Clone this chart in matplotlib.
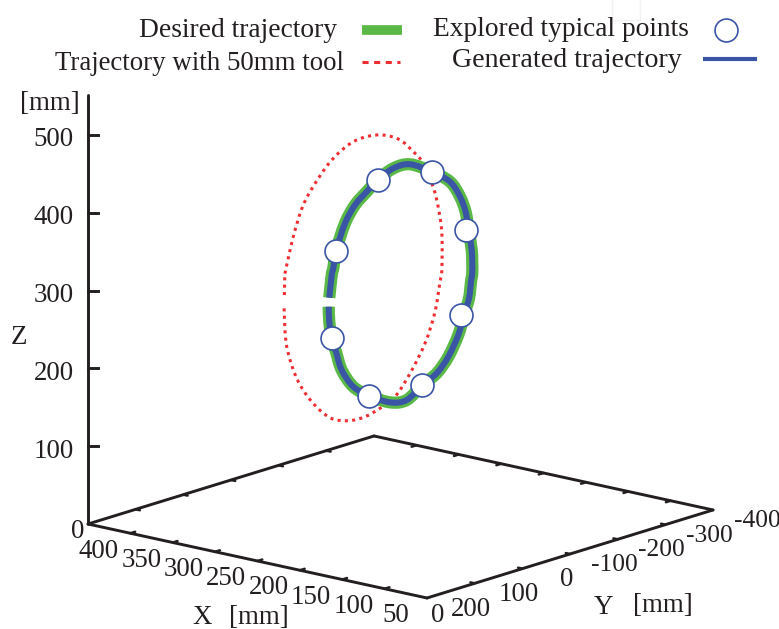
import numpy as np
import matplotlib
matplotlib.use('Agg')
import matplotlib.pyplot as plt
from matplotlib.path import Path
from matplotlib.patches import PathPatch

plt.rcParams['font.family'] = ['Liberation Serif', 'DejaVu Serif']

# trajectory values in mm, the curve has a small break between last and first value
traj_x = 200
traj_y = [49.4, 44.3, 41.0, 35.3, 16.4, -4.5, -29.1, -52.2, -84.9, -119.9, -165.4,
          -203.8, -224.8, -236.8, -242.6, -249.4, -250.6, -247.9, -243.7, -233.2,
          -221.2, -200.3, -175.9, -145.7, -113.0, -78.0, -34.5, -1.0, 23.4, 35.3,
          44.3, 49.4, 50.6]
traj_z = [310.0, 338.3, 346.3, 367.4, 399.5, 419.0, 431.5, 442.2, 451.0, 449.6, 431.5,
          411.4, 388.2, 365.8, 342.0, 315.0, 286.9, 274.6, 254.0, 234.6,
          211.1, 187.1, 170.4, 161.1, 147.9, 151.5, 168.3, 186.1, 212.2, 237.9,
          256.9, 279.2, 298.7]

tool_x = 250
tool_y = [54.8, 54.0, 53.4, 36.0, 15.0, -16.5, -48.0, -89.9, -139.0, -184.3, -215.8,
          -236.8, -254.4, -264.9, -275.4, -275.4, -271.8, -261.3, -240.3, -208.9,
          -177.4, -145.9, -114.5, -79.4, -41.0, -2.6, 28.8, 49.8, 54.8, 54.8]
tool_z = [302.6, 324.4, 330.3, 374.0, 410.9, 439.1, 458.9, 472.4, 471.8, 458.0, 435.8,
          416.9, 388.0, 364.5, 321.8, 270.4, 258.2, 221.5, 184.9, 152.2,
          128.1, 119.2, 114.3, 115.7, 126.8, 154.7, 190.7, 235.3, 276.9, 287.6]

point_y = [44.3, 35.3, -52.2, -165.4, -236.8, -226.9, -145.7, -34.5]
point_z = [256.9, 367.4, 442.2, 431.5, 343.1, 235.7, 161.1, 168.3]

x_ticks = [400, 350, 300, 250, 200, 150, 100, 50, 0]
y_ticks = [200, 100, 0, -100, -200, -300, -400]
z_ticks = [0, 100, 200, 300, 400, 500]

BLACK = '#231f20'
GREEN = '#5ab946'
BLUE = '#3a55a5'
RED = '#ee2e33'
FS = 19.4


def project(x, y, z):
    # axonometric view, result in figure pixels
    x, y, z = np.asarray(x, float), np.asarray(y, float), np.asarray(z, float)
    u = 427 - 0.8475 * x + 0.4767 * (200 - y)
    v = 598 - 0.185 * x - 0.1467 * (200 - y) - 0.778 * z
    return u, v


def curve(u, v, **kw):
    # bezier path through the read values so the ring is not drawn with corners
    pts = np.column_stack([u, v])
    prev = np.vstack([pts[0], pts[:-2]])
    nxt = np.vstack([pts[2:], pts[-1]])
    verts = [pts[0]]
    for i in range(len(pts) - 1):
        verts += [pts[i] + (pts[i + 1] - prev[i]) / 6,
                  pts[i + 1] - (nxt[i] - pts[i]) / 6,
                  pts[i + 1]]
    codes = [Path.MOVETO] + [Path.CURVE4] * (len(verts) - 1)
    ax.add_patch(PathPatch(Path(verts, codes), fill=False, **kw))


fig = plt.figure(figsize=(7.79, 6.29), dpi=100)
ax = fig.add_axes([0, 0, 1, 1])
ax.set_xlim(0, 779)
ax.set_ylim(629, 0)
ax.axis('off')


def edge(p0, p1, lw=2.1):
    u, v = project(*zip(p0, p1))
    ax.plot(u, v, color=BLACK, lw=lw, solid_capstyle='round', zorder=2)


# floor and z axis
edge((400, 200, 0), (0, 200, 0))
edge((0, 200, 0), (0, -400, 0))
edge((0, -400, 0), (400, -400, 0))
edge((400, -400, 0), (400, 200, 0))
edge((400, 200, 0), (400, 200, 551))

for t in x_ticks[1:-1]:
    edge((t, 200, 0), (t, 190, 0), 1.8)
    edge((t, -400, 0), (t, -390, 0), 1.8)
for t in y_ticks[1:-1]:
    edge((400, t, 0), (395, t, 0), 1.8)
    edge((0, t, 0), (5, t, 0), 1.8)
for t in z_ticks[1:]:
    u, v = project(400, 200, t)
    ax.plot([u, u + 10], [v, v], color=BLACK, lw=2.1, zorder=2)

# tick labels
for t in x_ticks:
    u, v = project(t, 200, 0)
    dy = 27 if t else 18
    ax.text(u + 11, v + dy, str(t), ha='center', va='center', fontsize=FS, color=BLACK)
for t in y_ticks:
    u, v = project(0, t, 0)
    size = 18.4 if t < 0 else FS
    ax.text(u + 44, v + 11, str(t), ha='center', va='center', fontsize=size, color=BLACK)
for t in z_ticks:
    u, v = project(400, 200, t)
    if t == 0:
        ax.text(84, v + 7, '0', ha='right', va='center', fontsize=FS, color=BLACK)
    else:
        ax.text(74, v + 5, str(t), ha='right', va='center', fontsize=FS, color=BLACK)

ax.text(50, 104, '[mm]', ha='center', va='center', fontsize=FS, color=BLACK)
ax.text(19, 337, 'Z', ha='center', va='center', fontsize=FS, color=BLACK)
ax.text(202, 618, 'X', ha='center', va='center', fontsize=FS, color=BLACK)
ax.text(259, 618, '[mm]', ha='center', va='center', fontsize=FS, color=BLACK)
ax.text(603, 607, 'Y', ha='center', va='center', fontsize=FS, color=BLACK)
ax.text(663, 606, '[mm]', ha='center', va='center', fontsize=FS, color=BLACK)

# curves
u, v = project(tool_x, tool_y, tool_z)
curve(u, v, color=RED, lw=2.2, ls=(0, (1, 1.4)), zorder=3)
u, v = project(traj_x, traj_y, traj_z)
curve(u, v, color=GREEN, lw=8.8, capstyle='butt', zorder=4)
curve(u, v, color=BLUE, lw=4.4, capstyle='butt', zorder=5)
u, v = project(traj_x, point_y, point_z)
ax.plot(u, v, 'o', ms=16.5, mfc='white', mec=BLUE, mew=1.2, zorder=6)

# legend
ax.text(337, 37, 'Desired trajectory', ha='right', va='baseline', fontsize=19.8, color=BLACK)
ax.text(344, 70, 'Trajectory with 50mm tool', ha='right', va='baseline', fontsize=FS, color=BLACK)
ax.text(433, 36, 'Explored typical points', ha='left', va='baseline', fontsize=19.7, color=BLACK)
ax.text(682, 67, 'Generated trajectory', ha='right', va='baseline', fontsize=20.2, color=BLACK)
ax.plot([362, 402], [29.5, 29.5], color=GREEN, lw=7, solid_capstyle='butt')
ax.plot([362, 400], [62, 62], color=RED, lw=2.2, ls=(0, (2, 1.8)))
ax.plot([726], [30], 'o', ms=16.5, mfc='white', mec=BLUE, mew=1.2)
ax.plot([703, 757], [59, 59], color=BLUE, lw=3, solid_capstyle='butt')

# faint scan mark at the top edge of the source figure
ax.plot([612, 612, 640, 640], [0, 20, 20, 0], color='#f2f2f2', lw=1)

fig.savefig('out.png', dpi=100)
